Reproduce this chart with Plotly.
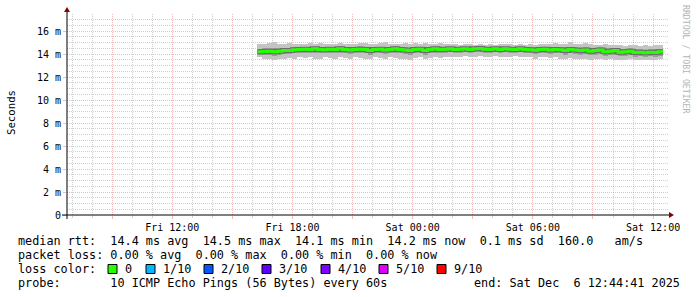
import plotly.graph_objects as go
import pandas as pd

# ---------------- data (ms) ----------------
start_time = "2025-12-05 16:15"
step = "15min"

median_ms = [
    14.20, 14.22, 14.25, 14.20, 14.25, 14.30, 14.30, 14.38, 14.40,
    14.42, 14.40, 14.45, 14.40, 14.38, 14.42, 14.40, 14.45, 14.40,
    14.35, 14.40, 14.42, 14.40, 14.30, 14.40, 14.42, 14.35, 14.40,
    14.45, 14.40, 14.35, 14.30, 14.40, 14.42, 14.30, 14.40, 14.45,
    14.40, 14.42, 14.45, 14.40, 14.42, 14.45, 14.40, 14.45, 14.48,
    14.42, 14.40, 14.45, 14.40, 14.45, 14.42, 14.40, 14.45, 14.40,
    14.38, 14.32, 14.40, 14.42, 14.35, 14.40, 14.38, 14.30, 14.40,
    14.35, 14.30, 14.35, 14.25, 14.30, 14.35, 14.20, 14.25, 14.30,
    14.15, 14.20, 14.25, 14.12, 14.15, 14.10, 14.15, 14.12, 14.20,
]
smoke_hi = [
    14.85, 14.90, 14.95, 15.05, 14.90, 14.85, 14.95, 14.90, 14.90,
    14.85, 14.95, 14.90, 15.00, 14.90, 14.85, 14.90, 14.95, 14.90,
    14.85, 14.90, 15.00, 14.95, 14.90, 14.85, 14.95, 15.05, 14.90,
    14.85, 14.90, 14.95, 14.90, 15.00, 14.90, 14.95, 14.85, 14.90,
    14.95, 14.85, 14.90, 14.85, 14.80, 14.85, 14.90, 14.80, 14.85,
    14.80, 14.85, 14.80, 14.85, 14.90, 14.85, 14.80, 14.85, 14.80,
    14.85, 14.80, 14.85, 14.90, 14.85, 14.95, 14.85, 14.90, 15.05,
    14.90, 14.85, 14.95, 14.85, 14.80, 14.75, 14.85, 14.80, 14.75,
    14.80, 14.70, 14.75, 14.80, 14.70, 14.75, 14.70, 14.75, 14.80,
]
smoke_lo = [
    13.70, 13.60, 13.55, 13.50, 13.60, 13.55, 13.65, 13.60, 13.70,
    13.65, 13.70, 13.60, 13.55, 13.70, 13.65, 13.60, 13.70, 13.65,
    13.60, 13.70, 13.65, 13.55, 13.60, 13.70, 13.65, 13.60, 13.70,
    13.65, 13.60, 13.55, 13.50, 13.65, 13.70, 13.55, 13.65, 13.70,
    13.65, 13.70, 13.75, 13.70, 13.75, 13.80, 13.70, 13.75, 13.80,
    13.75, 13.70, 13.80, 13.75, 13.70, 13.75, 13.80, 13.70, 13.75,
    13.70, 13.60, 13.70, 13.75, 13.65, 13.70, 13.60, 13.55, 13.65,
    13.60, 13.55, 13.60, 13.50, 13.55, 13.60, 13.50, 13.55, 13.50,
    13.45, 13.50, 13.55, 13.45, 13.50, 13.45, 13.50, 13.45, 13.55,
]
smoke_mid_lo = [
    13.95, 13.90, 13.92, 13.85, 13.95, 14.00, 13.98, 14.05, 14.10,
    14.10, 14.08, 14.12, 14.05, 14.05, 14.10, 14.08, 14.12, 14.05,
    14.02, 14.08, 14.10, 14.05, 13.95, 14.08, 14.10, 14.00, 14.08,
    14.12, 14.05, 14.00, 13.95, 14.08, 14.10, 13.95, 14.05, 14.12,
    14.10, 14.12, 14.15, 14.10, 14.12, 14.15, 14.10, 14.15, 14.18,
    14.12, 14.10, 14.15, 14.12, 14.15, 14.12, 14.10, 14.15, 14.10,
    14.05, 14.00, 14.10, 14.10, 14.02, 14.08, 14.05, 13.95, 14.05,
    14.00, 13.95, 14.00, 13.90, 13.92, 13.98, 13.85, 13.88, 13.92,
    13.80, 13.85, 13.88, 13.78, 13.80, 13.75, 13.80, 13.78, 13.85,
]
smoke_mid_hi = [
    14.45, 14.48, 14.52, 14.50, 14.50, 14.52, 14.55, 14.60, 14.62,
    14.62, 14.62, 14.65, 14.62, 14.60, 14.62, 14.60, 14.68, 14.62,
    14.58, 14.62, 14.66, 14.62, 14.55, 14.62, 14.65, 14.60, 14.62,
    14.66, 14.62, 14.60, 14.55, 14.62, 14.65, 14.55, 14.62, 14.66,
    14.62, 14.62, 14.65, 14.60, 14.62, 14.65, 14.60, 14.64, 14.66,
    14.62, 14.60, 14.64, 14.60, 14.65, 14.62, 14.60, 14.64, 14.60,
    14.60, 14.56, 14.62, 14.65, 14.58, 14.64, 14.60, 14.56, 14.64,
    14.60, 14.55, 14.60, 14.52, 14.55, 14.58, 14.48, 14.50, 14.52,
    14.42, 14.45, 14.50, 14.40, 14.42, 14.38, 14.42, 14.40, 14.45,
]

x_range = ["2025-12-05 06:44:41", "2025-12-06 12:44:41"]
x_tickvals = ["2025-12-05 09:00", "2025-12-05 12:00", "2025-12-05 15:00",
              "2025-12-05 18:00", "2025-12-05 21:00", "2025-12-06 00:00",
              "2025-12-06 03:00", "2025-12-06 06:00", "2025-12-06 09:00",
              "2025-12-06 12:00"]
x_ticktext = ["", "Fri 12:00", "", "Fri 18:00", "", "Sat 00:00",
              "", "Sat 06:00", "", "Sat 12:00"]
y_tickvals = [0, 2, 4, 6, 8, 10, 12, 14, 16]
y_ticktext = ["0", "2 m", "4 m", "6 m", "8 m", "10 m", "12 m", "14 m", "16 m"]

legend_lines = [
    "median rtt:  14.4 ms avg  14.5 ms max  14.1 ms min  14.2 ms now  0.1 ms sd  160.0   am/s",
    "packet loss: 0.00 % avg  0.00 % max  0.00 % min  0.00 % now",
    "loss color:",
    "probe:       10 ICMP Echo Pings (56 Bytes) every 60s",
]
end_text = "end: Sat Dec  6 12:44:41 2025"
loss_labels = ["0", "1/10", "2/10", "3/10", "4/10", "5/10", "9/10"]
loss_colors = ["#26ff00", "#00b8ff", "#0059ff", "#5e00ff", "#7e00ff", "#dd00ff", "#ff0000"]

# ---------------- layout geometry (px) ----------------
W, H = 697, 297
PL, PR, PT, PB = 67, 668, 14, 215


def fx(p):
    return (p - PL) / (PR - PL)


def fy(p):
    return (PB - p) / (PB - PT)


MONO = "DejaVu Sans Mono"
MAJ = "rgba(225,120,120,0.5)"
MIN = "rgba(150,150,150,0.45)"
times = pd.date_range(start_time, periods=len(median_ms), freq=step)
bin_ms = 15 * 60 * 1000

# minor grid positions (hourly / 0.5 m) that are not on a major line
hours = pd.date_range("2025-12-05 07:00", "2025-12-06 12:00", freq="1h")
x_minor = [h for h in hours if h.hour % 3 != 0]
y_minor = [v / 2 for v in range(0, 36) if v % 4 != 0]

fig = go.Figure()
fig.add_trace(go.Bar(
    x=times, y=[h - l for h, l in zip(smoke_hi, smoke_lo)], base=smoke_lo,
    width=bin_ms, offset=0, marker=dict(color="#c4c4c4", line=dict(width=0)),
    hoverinfo="skip", showlegend=False))
fig.add_trace(go.Bar(
    x=times, y=[h - l for h, l in zip(smoke_mid_hi, smoke_mid_lo)], base=smoke_mid_lo,
    width=bin_ms, offset=0, marker=dict(color="#9c9c9c", line=dict(width=0)),
    hoverinfo="skip", showlegend=False))
# median, drawn as steps
xs = list(times) + [times[-1] + pd.Timedelta(step)]
ys = median_ms + [median_ms[-1]]
fig.add_trace(go.Scatter(x=xs, y=ys, mode="lines", line=dict(color="#6c6c6c", width=5, shape="hv"),
                         hoverinfo="skip", showlegend=False))
fig.add_trace(go.Scatter(x=xs, y=ys, mode="lines", line=dict(color="#26ff00", width=3, shape="hv"),
                         hoverinfo="skip", showlegend=False))

fig.update_layout(
    width=W, height=H,
    margin=dict(l=PL, r=W - PR, t=PT, b=H - PB, pad=0),
    paper_bgcolor="white", plot_bgcolor="white",
    barmode="overlay", bargap=0, showlegend=False, hovermode=False,
    font=dict(family=MONO, size=10, color="black"),
)
fig.update_xaxes(
    type="date", range=x_range, tickvals=x_tickvals, ticktext=x_ticktext,
    showgrid=True, gridcolor=MAJ, griddash="1px,1px", gridwidth=1,
    ticks="outside", ticklen=3, tickcolor=MAJ,
    tickfont=dict(family=MONO, size=10, color="black"),
    showline=False, zeroline=False,
    minor=dict(tickvals=x_minor, showgrid=True,
               gridcolor=MIN, griddash="1px,1px", gridwidth=1,
               ticks="outside", ticklen=2, tickcolor=MIN),
)
fig.update_yaxes(
    range=[0, (PB - PT) / 11.5], tickvals=y_tickvals, ticktext=y_ticktext,
    showgrid=True, gridcolor=MAJ, griddash="1px,1px", gridwidth=1,
    ticks="outside", ticklen=3, tickcolor=MAJ,
    tickfont=dict(family=MONO, size=10, color="black"),
    showline=False, zeroline=False,
    minor=dict(tickvals=y_minor, showgrid=True, gridcolor=MIN, griddash="1px,1px", gridwidth=1),
)

shapes = []
# axis lines
shapes.append(dict(type="line", xref="paper", yref="paper", x0=fx(62), x1=fx(670), y0=0, y1=0,
                   line=dict(color="black", width=1)))
shapes.append(dict(type="line", xref="paper", yref="paper", x0=0, x1=0, y0=fy(219), y1=fy(11),
                   line=dict(color="black", width=1)))
# arrows
shapes.append(dict(type="path", xref="paper", yref="paper",
                   path=f"M {fx(669)} {fy(212)} L {fx(674)} {fy(215)} L {fx(669)} {fy(218)} Z",
                   fillcolor="#8b0000", line=dict(color="#8b0000", width=0)))
shapes.append(dict(type="path", xref="paper", yref="paper",
                   path=f"M {fx(64)} {fy(12)} L {fx(67)} {fy(7)} L {fx(70)} {fy(12)} Z",
                   fillcolor="#8b0000", line=dict(color="#8b0000", width=0)))

annotations = []
NB = "\u00a0"
line_y = [241, 255, 269, 283]
for txt, yy in zip(legend_lines, line_y):
    annotations.append(dict(text=txt.replace(" ", NB), xref="paper", yref="paper",
                            x=fx(16), y=fy(yy), xanchor="left", yanchor="middle",
                            showarrow=False, font=dict(family=MONO, size=11.8, color="black")))
annotations.append(dict(text=end_text.replace(" ", NB), xref="paper", yref="paper",
                        x=fx(682), y=fy(283), xanchor="right", yanchor="middle",
                        showarrow=False, font=dict(family=MONO, size=11.8, color="black")))
box_x = [108, 146, 204, 262, 321, 379, 437]
for lab, col, bx in zip(loss_labels, loss_colors, box_x):
    shapes.append(dict(type="rect", xref="paper", yref="paper",
                       x0=fx(bx), x1=fx(bx + 9), y0=fy(273.5), y1=fy(264.5),
                       fillcolor=col, line=dict(color="black", width=1)))
    annotations.append(dict(text=lab, xref="paper", yref="paper",
                            x=fx(bx + 15), y=fy(269), xanchor="left", yanchor="middle",
                            showarrow=False, font=dict(family=MONO, size=11.8, color="black")))
# y title
annotations.append(dict(text="Seconds", xref="paper", yref="paper", x=fx(11), y=fy(113),
                        xanchor="center", yanchor="middle", textangle=-90, showarrow=False,
                        font=dict(family=MONO, size=10.7, color="black")))
# watermark
annotations.append(dict(text="RRDTOOL / TOBI OETIKER".replace(" ", NB), xref="paper", yref="paper",
                        x=fx(686), y=fy(59), xanchor="center", yanchor="middle", textangle=90,
                        showarrow=False, font=dict(family=MONO, size=8.2, color="#b4b4b4")))

fig.update_layout(shapes=shapes, annotations=annotations)
fig.write_html("out.html")
